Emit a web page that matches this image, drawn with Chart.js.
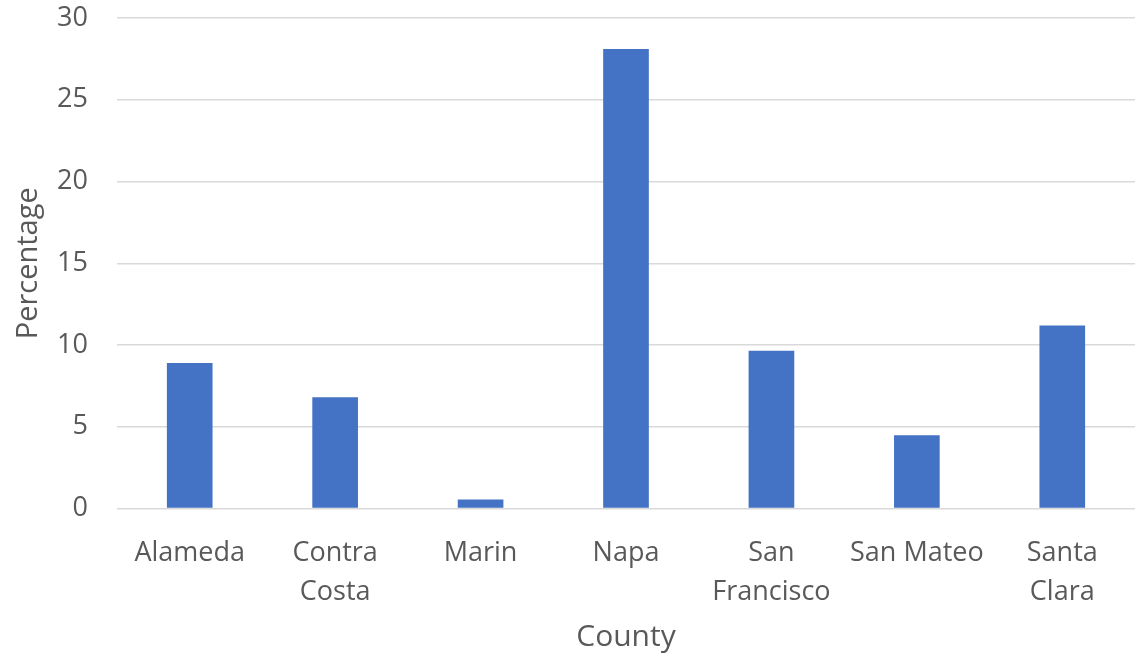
<!DOCTYPE html>
<html>
<head>
<meta charset="utf-8">
<script src="https://cdn.jsdelivr.net/npm/chart.js@4/dist/chart.umd.min.js"></script>
<style>
    body { margin: 0; background: #fff; }
    #wrap { width: 1140px; height: 656px; position: relative; }
</style>
</head>
<body>
<div id="wrap"><canvas id="countyChart"></canvas></div>
<script>
// Categorias (com quebra de linha como no original)
const condados = ['Alameda', ['Contra', 'Costa'], 'Marin', 'Napa', ['San', 'Francisco'], 'San Mateo', ['Santa', 'Clara']];
const percentuais = [8.9, 6.8, 0.55, 28.1, 9.65, 4.48, 11.2];
const ticksY = [0, 5, 10, 15, 20, 25, 30];

const COR_BARRA = '#4472C4';
const COR_TEXTO = '#595959';
const COR_GRADE = '#d9d9d9';
const FONTE = "'Open Sans', 'Liberation Sans', sans-serif";

document.addEventListener('DOMContentLoaded', function() {
    const ctx = document.getElementById('countyChart').getContext('2d');
    new Chart(ctx, {
        type: 'bar',
        data: {
            labels: condados,
            datasets: [{
                data: percentuais,
                backgroundColor: COR_BARRA,
                borderWidth: 0,
                barPercentage: 1,
                categoryPercentage: 0.314
            }]
        },
        options: {
            responsive: true,
            maintainAspectRatio: false,
            animation: false,
            layout: {
                padding: { top: 18, right: 5, bottom: 0, left: 0 }
            },
            plugins: {
                legend: { display: false },
                tooltip: { enabled: false }
            },
            scales: {
                x: {
                    grid: { display: false },
                    border: { display: false },
                    ticks: {
                        color: COR_TEXTO,
                        font: { family: FONTE, size: 27, lineHeight: 1.45 },
                        padding: 17,
                        maxRotation: 0,
                        autoSkip: false
                    },
                    title: {
                        display: true,
                        text: 'County',
                        color: COR_TEXTO,
                        font: { family: FONTE, size: 30 },
                        padding: { top: 0, bottom: 1 }
                    },
                    afterFit: function(scale) {
                        scale.height = 147.5;
                        scale.paddingTop = 0;
                        scale.paddingBottom = 0;
                    }
                },
                y: {
                    min: 0,
                    max: 30,
                    afterBuildTicks: function(scale) {
                        scale.ticks = ticksY.map(v => ({ value: v }));
                    },
                    grid: {
                        color: COR_GRADE,
                        lineWidth: 1.5,
                        drawTicks: false
                    },
                    border: { display: false },
                    ticks: {
                        color: COR_TEXTO,
                        font: { family: FONTE, size: 27 },
                        padding: 29
                    },
                    title: {
                        display: true,
                        text: 'Percentage',
                        color: COR_TEXTO,
                        font: { family: FONTE, size: 29 },
                        padding: { top: 11, bottom: 0 }
                    },
                    afterFit: function(scale) {
                        scale.width = 117;
                        scale.paddingTop = 0;
                        scale.paddingBottom = 0;
                    }
                }
            }
        }
    });
});
</script>
</body>
</html>
